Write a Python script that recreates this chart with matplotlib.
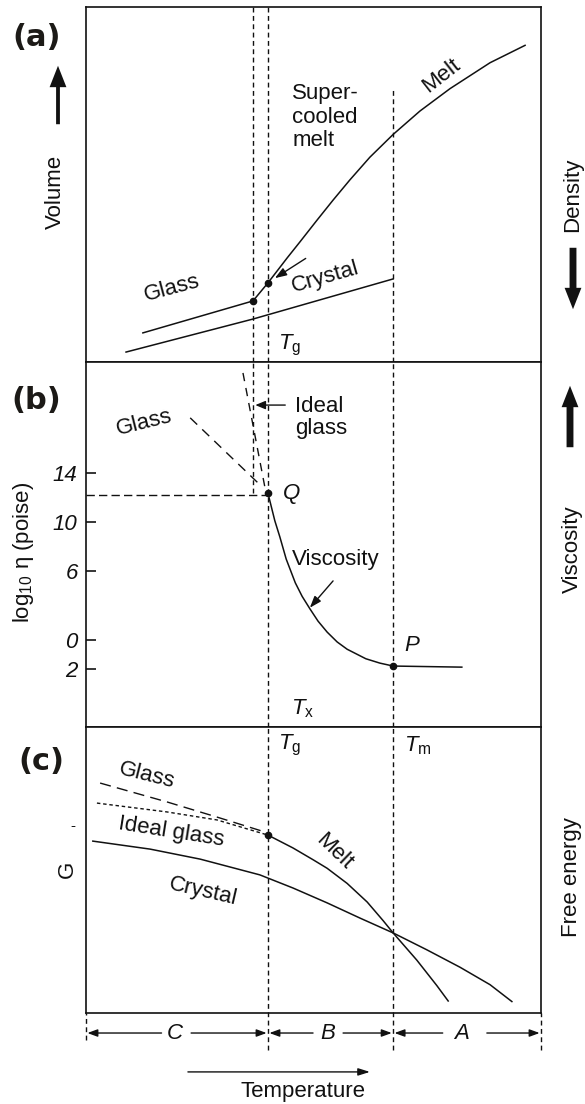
import matplotlib.pyplot as plt
from matplotlib.patches import FancyArrowPatch

plt.rcParams['font.family'] = ['Liberation Sans', 'DejaVu Sans']
plt.rcParams['mathtext.fontset'] = 'custom'
plt.rcParams['mathtext.rm'] = 'Liberation Sans'
plt.rcParams['mathtext.it'] = 'Liberation Sans:italic'

# temperature axis runs 0..100 across every panel
T_g_slow = 36.7   # glass transition for slow cooling (ideal glass)
T_g = 40.0
T_m = 67.5

# (a) volume against temperature
crystal_a_T = [8.8, 36.7, 67.5]
crystal_a_V = [2.8, 12.1, 23.4]
glass_a_T = [12.5, 36.7]
glass_a_V = [8.2, 17.2]
kink_a_T = [36.7, 40.0]
kink_a_V = [17.2, 22.3]
melt_a_T = [40.0, 44.2, 47.0, 50.8, 54.3, 58.0, 62.4, 67.5, 73.4, 80.0, 88.8, 96.5]
melt_a_V = [22.3, 29.3, 33.8, 40.0, 45.6, 51.3, 57.7, 64.1, 70.7, 77.0, 84.3, 89.2]

# (b) viscosity against temperature
visc_T = [40.0, 41.5, 42.6, 44.0, 46.0, 47.5, 49.2, 51.0, 53.0, 55.2, 57.4,
          61.5, 64.6, 67.5, 82.6]
visc_y = [64.0, 56.5, 52.1, 46.0, 39.5, 35.8, 32.4, 29.0, 26.0, 23.3, 21.3,
          18.7, 17.5, 16.7, 16.4]
glass_b_T = [22.9, 38.7]
glass_b_y = [84.7, 65.8]
ideal_b_T = [34.5, 39.3]
ideal_b_y = [97.0, 65.8]
visc_tick_pos = [69.6, 56.2, 42.7, 23.8, 15.9]
visc_tick_lab = ['14', '10', '6', '0', '2']

# (c) free energy against temperature
glass_c_T = [3.1, 17.8, 28.8, 38.7]
glass_c_G = [80.4, 73.8, 68.5, 63.6]
ideal_c_T = [2.4, 17.8, 28.8, 40.0]
ideal_c_G = [73.4, 70.3, 67.5, 62.2]
melt_c_T = [40.0, 45.5, 50.0, 53.0, 57.4, 61.8, 65.3, 67.5, 72.7, 77.1, 79.6]
melt_c_G = [62.2, 57.7, 53.5, 50.6, 45.3, 38.8, 32.3, 28.0, 18.5, 9.6, 4.2]
crystal_c_T = [1.5, 14.1, 25.1, 38.2, 45.5, 53.0, 60.2, 67.5, 74.9, 82.2, 88.8, 93.6]
crystal_c_G = [60.1, 57.3, 53.8, 48.3, 43.7, 38.5, 33.2, 28.0, 22.1, 16.0, 9.9, 4.0]

regions = ['C', 'B', 'A']

W, H = 585, 1104
fig = plt.figure(figsize=(W / 100, H / 100), dpi=100)


def fp(x, y):
    # pixel position measured from the top-left corner -> figure fraction
    return x / W, 1 - y / H


K = '#111111'
LW = 1.1
vdash = (0, (3.5, 2.5))
kw_txt = dict(fontsize=16, color=K)

ax_a = fig.add_axes([86 / W, 1 - 362 / H, 455 / W, 355 / H])
ax_b = fig.add_axes([86 / W, 1 - 727 / H, 455 / W, 365 / H])
ax_c = fig.add_axes([86 / W, 1 - 1013 / H, 455 / W, 286 / H])
for ax in (ax_a, ax_b, ax_c):
    ax.set_xlim(0, 100)
    ax.set_ylim(0, 100)
    ax.set_xticks([])
    ax.set_yticks([])
    for s in ax.spines.values():
        s.set_linewidth(1.2)
        s.set_color(K)

# ---------------- (a)
ax_a.plot([T_g_slow] * 2, [0, 100], ls=vdash, lw=1.0, color=K)
ax_a.plot([T_g] * 2, [0, 100], ls=vdash, lw=1.0, color=K)
ax_a.plot([T_m] * 2, [0, 77.5], ls=vdash, lw=1.0, color=K)
ax_a.plot(crystal_a_T, crystal_a_V, color=K, lw=LW)
ax_a.plot(glass_a_T, glass_a_V, color=K, lw=LW)
ax_a.plot(kink_a_T, kink_a_V, color=K, lw=LW)
ax_a.plot(melt_a_T, melt_a_V, color=K, lw=LW)
ax_a.plot(kink_a_T, kink_a_V, 'o', color=K, ms=4.5)
ax_a.annotate('', xy=(41.0, 23.2), xytext=(48.8, 29.6),
              arrowprops=dict(arrowstyle='-|>,head_length=0.7,head_width=0.25',
                              color=K, lw=1.0))
ax_a.text(18.9, 20.8, 'Glass', rotation=15, ha='center', va='center', **kw_txt)
ax_a.text(52.5, 23.8, 'Crystal', rotation=16, ha='center', va='center', **kw_txt)
ax_a.text(45.3, 78.5, 'Super-\ncooled\nmelt', ha='left', va='top',
          linespacing=1.15, **kw_txt)
ax_a.text(78.2, 80.6, 'Melt', rotation=38, ha='center', va='center', **kw_txt)
ax_a.text(44.8, 4.8, r'$T_\mathrm{g}$', ha='center', va='center', **kw_txt)

# ---------------- (b)
ax_b.plot([T_g_slow] * 2, [64.0, 100], ls=vdash, lw=1.0, color=K)
ax_b.plot([T_g] * 2, [0, 100], ls=vdash, lw=1.0, color=K)
ax_b.plot([T_m] * 2, [0, 100], ls=vdash, lw=1.0, color=K)
ax_b.plot([0, T_g], [63.6, 63.6], ls=(0, (6, 3)), lw=1.0, color=K)
ax_b.plot(glass_b_T, glass_b_y, ls=(0, (7, 5)), lw=1.0, color=K)
ax_b.plot(ideal_b_T, ideal_b_y, ls=(0, (6, 5)), lw=1.0, color=K)
ax_b.plot(visc_T, visc_y, color=K, lw=LW)
ax_b.plot([visc_T[0], T_m], [visc_y[0], visc_y[visc_T.index(T_m)]], 'o',
          color=K, ms=4.5)
ax_b.set_yticks(visc_tick_pos)
ax_b.set_yticklabels(visc_tick_lab, fontsize=16, style='italic', color=K)
ax_b.tick_params(axis='y', direction='in', length=7, width=1.1, pad=6)
ax_b.annotate('', xy=(36.6, 88.2), xytext=(44.4, 88.2),
              arrowprops=dict(arrowstyle='-|>,head_length=0.6,head_width=0.25',
                              color=K, lw=1.0))
ax_b.text(45.9, 84.7, 'Ideal\nglass', ha='left', va='center',
          linespacing=1.05, **kw_txt)
ax_b.text(12.9, 83.3, 'Glass', rotation=14, ha='center', va='center', **kw_txt)
ax_b.text(43.3, 64.0, 'Q', style='italic', ha='left', va='center', **kw_txt)
ax_b.text(54.9, 45.8, 'Viscosity', ha='center', va='center', **kw_txt)
ax_b.annotate('', xy=(48.8, 32.1), xytext=(54.7, 40.6),
              arrowprops=dict(arrowstyle='-|>,head_length=0.7,head_width=0.25',
                              color=K, lw=1.0))
ax_b.text(71.6, 22.2, 'P', style='italic', ha='center', va='center', **kw_txt)
ax_b.text(47.5, 5.0, r'$T_\mathrm{x}$', ha='center', va='center', **kw_txt)

# ---------------- (c)
# dashed markers: frame edges only below the frame, Tg and Tm through it
for x, y0, y1 in ((0, -9.4, 0), (T_g, -12.9, 100), (T_m, -12.9, 100),
                  (100, -12.9, 0)):
    ax_c.plot([x, x], [y0, y1], ls=vdash, lw=1.0, color=K, clip_on=False)
ax_c.plot(glass_c_T, glass_c_G, ls=(0, (8, 4.5)), lw=1.0, color=K)
ax_c.plot(ideal_c_T, ideal_c_G, ls=(0, (2.5, 2)), lw=1.0, color=K)
ax_c.plot(melt_c_T, melt_c_G, color=K, lw=LW)
ax_c.plot(crystal_c_T, crystal_c_G, color=K, lw=LW)
ax_c.plot([melt_c_T[0]], [melt_c_G[0]], 'o', color=K, ms=4.5)
ax_c.text(13.4, 82.9, 'Glass', rotation=-14, ha='center', va='center', **kw_txt)
ax_c.text(18.7, 63.3, 'Ideal glass', rotation=-9, ha='center', va='center',
          **kw_txt)
ax_c.text(25.7, 42.3, 'Crystal', rotation=-13, ha='center', va='center',
          **kw_txt)
ax_c.text(54.5, 56.5, 'Melt', rotation=-44, ha='center', va='center', **kw_txt)
ax_c.text(44.8, 93.7, r'$T_\mathrm{g}$', ha='center', va='center', **kw_txt)
ax_c.text(73.0, 93.4, r'$T_\mathrm{m}$', ha='center', va='center', **kw_txt)

# temperature ranges C, B, A below the frame
bounds = [0, T_g, T_m, 100]
lab_x = [19.6, 53.2, 82.6]
gap_l = [3.0, 3.3, 4.2]
gap_r = [3.5, 3.3, 5.5]
yb = -7.0
harrow = dict(arrowstyle='-|>,head_length=0.6,head_width=0.22', color=K,
              lw=1.0, shrinkA=0, shrinkB=1)
for lab, xl, gl, gr, x0, x1 in zip(regions, lab_x, gap_l, gap_r,
                                   bounds[:-1], bounds[1:]):
    ax_c.text(xl, yb, lab, style='italic', ha='center', va='center',
              **kw_txt)
    ax_c.annotate('', xy=(x0, yb), xytext=(xl - gl, yb), arrowprops=harrow,
                  annotation_clip=False)
    ax_c.annotate('', xy=(x1, yb), xytext=(xl + gr, yb), arrowprops=harrow,
                  annotation_clip=False)
ax_c.annotate('', xy=(62.4, -20.6), xytext=(22.4, -20.6),
              arrowprops=dict(arrowstyle='-|>,head_length=0.7,head_width=0.22',
                              color=K, lw=1.0, shrinkA=0, shrinkB=0),
              annotation_clip=False)
ax_c.text(47.7, -27.6, 'Temperature', ha='center', va='center', **kw_txt)

# ---------------- labels and arrows outside the frames
for lab, (x, y) in (('(a)', (37, 38)), ('(b)', (36, 400)), ('(c)', (41, 762))):
    fig.text(*fp(x, y), lab, fontsize=22, fontweight='bold', color='#1c1a17',
             family='DejaVu Sans', ha='center', va='center')

side = [('Volume', 55, 192), ('Density', 573, 195), ('Viscosity', 572, 549),
        ('Free energy', 572, 877), ('G', 67, 869)]
for lab, x, y in side:
    fig.text(*fp(x, y), lab, rotation=90, ha='center', va='center', **kw_txt)
fig.text(*fp(23, 552), r'log$_{10}$ η (poise)', rotation=90, ha='center',
         va='center', **kw_txt)
fig.text(*fp(73, 826), '-', ha='center', va='center', fontsize=11, color=K)

big_arrows = [((58, 127), (58, 63), 0.25), ((573, 245), (573, 312), 0.45),
              ((570, 450), (570, 383), 0.45)]
for a, b, tw in big_arrows:
    fig.add_artist(FancyArrowPatch(
        fp(*a), fp(*b), transform=fig.transFigure, color=K,
        arrowstyle='simple,head_length=1.4,head_width=1.1,tail_width=%g' % tw,
        mutation_scale=11, lw=0))

fig.savefig('out.png', dpi=100)
